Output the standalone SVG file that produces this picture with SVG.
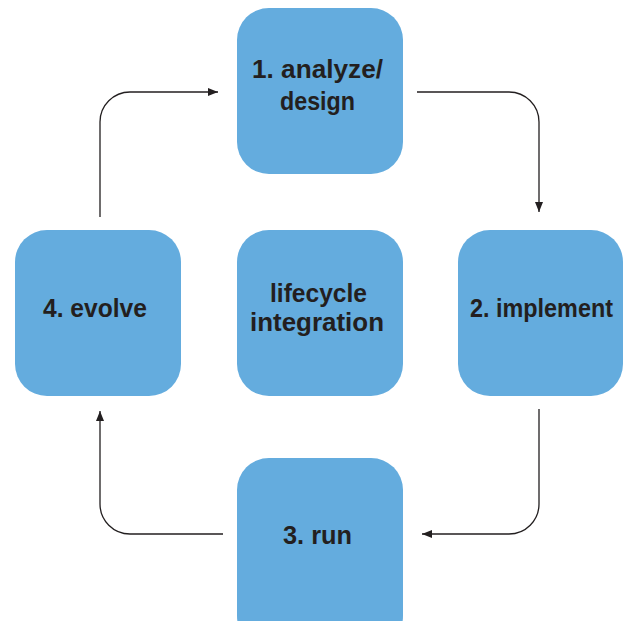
<svg xmlns="http://www.w3.org/2000/svg" width="625" height="621" viewBox="0 0 625 621">
<style>
.box{fill:#64acde;}
.lbl{font-family:"Liberation Sans",Arial,sans-serif;font-weight:bold;font-size:26px;fill:#231f20;text-anchor:middle;}
.conn{fill:none;stroke:#231f20;stroke-width:1.3;}
</style>
<defs>
<marker id="arr" viewBox="0 0 10 8" refX="10" refY="4" markerWidth="10" markerHeight="8" markerUnits="userSpaceOnUse" orient="auto">
<path d="M0,0 L10,4 L0,8 Z" fill="#231f20"/>
</marker>
</defs>
<rect width="625" height="621" fill="#ffffff"/>
<g id="connectors">
<path class="conn" d="M100,217 V122 A30,30 0 0 1 130,92 H218" marker-end="url(#arr)"/>
<path class="conn" d="M417,92 H509 A30,30 0 0 1 539,122 V212" marker-end="url(#arr)"/>
<path class="conn" d="M539,409 V504 A30,30 0 0 1 509,534 H422" marker-end="url(#arr)"/>
<path class="conn" d="M223,534 H130 A30,30 0 0 1 100,504 V411" marker-end="url(#arr)"/>
</g>
<g id="node-analyze">
<rect class="box" x="237" y="8" width="166" height="166" rx="32"/>
<text class="lbl" x="317.5" y="78" textLength="131" lengthAdjust="spacingAndGlyphs">1. analyze/</text>
<text class="lbl" x="317.5" y="110" textLength="75" lengthAdjust="spacingAndGlyphs">design</text>
</g>
<g id="node-evolve">
<rect class="box" x="15" y="230" width="166" height="166" rx="32"/>
<text class="lbl" x="95" y="317" textLength="104" lengthAdjust="spacingAndGlyphs">4. evolve</text>
</g>
<g id="node-lifecycle">
<rect class="box" x="237" y="230" width="166" height="166" rx="32"/>
<text class="lbl" x="318.5" y="302" textLength="97" lengthAdjust="spacingAndGlyphs">lifecycle</text>
<text class="lbl" x="317" y="331" textLength="134" lengthAdjust="spacingAndGlyphs">integration</text>
</g>
<g id="node-implement">
<rect class="box" x="458" y="230" width="165" height="166" rx="32"/>
<text class="lbl" x="541.5" y="317" textLength="143" lengthAdjust="spacingAndGlyphs">2. implement</text>
</g>
<g id="node-run">
<rect class="box" x="237" y="458" width="166" height="190" rx="32"/>
<text class="lbl" x="317.5" y="544" textLength="69" lengthAdjust="spacingAndGlyphs">3. run</text>
</g>
</svg>
